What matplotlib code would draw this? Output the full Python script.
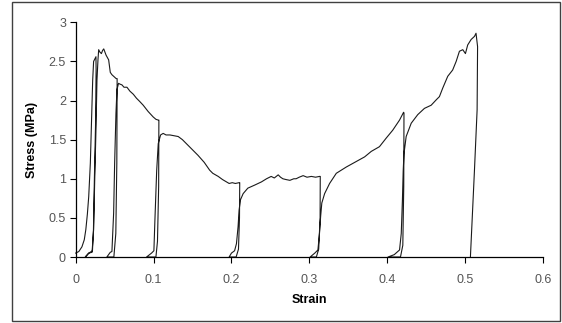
import numpy as np
import matplotlib
matplotlib.use("Agg")
import matplotlib.pyplot as plt
from matplotlib.patches import Rectangle

plt.rcParams['font.family'] = ['Liberation Sans', 'DejaVu Sans']

# ---- data (strain, stress in MPa) ----
# cycle 1: initial loading, unloading, reloading to peak and softening
c1_strain = [0.0, 0.004, 0.008, 0.011, 0.013, 0.015, 0.0167, 0.0188, 0.020, 0.0218, 0.023, 0.026,
             0.0262, 0.0255, 0.024, 0.0228, 0.0215, 0.017, 0.0123,
             0.0167, 0.021, 0.023, 0.0244, 0.026, 0.0273, 0.0286, 0.0295, 0.031, 0.033, 0.0345,
             0.036, 0.039, 0.0423, 0.0444, 0.0465, 0.0487, 0.052, 0.0532,
             0.0528, 0.0515, 0.049]
c1_stress = [0.05, 0.07, 0.13, 0.22, 0.35, 0.55, 0.77, 1.2, 1.62, 2.26, 2.5, 2.56,
             2.4, 1.7, 1.0, 0.35, 0.08, 0.05, 0.0,
             0.05, 0.06, 0.35, 0.98, 1.62, 2.26, 2.52, 2.65, 2.62, 2.6, 2.64,
             2.66, 2.58, 2.52, 2.36, 2.33, 2.31, 2.28, 2.28,
             1.2, 0.3, 0.0]

c2_strain = [0.040, 0.0444, 0.0465, 0.0487, 0.050, 0.0517, 0.053, 0.055, 0.0568, 0.0594, 0.062,
             0.0658, 0.0696, 0.074, 0.078, 0.082, 0.0867, 0.093, 0.0995, 0.103, 0.106, 0.1068,
             0.1065, 0.105, 0.103]
c2_stress = [0.0, 0.06, 0.07, 0.56, 1.2, 1.84, 2.14, 2.22, 2.21, 2.2, 2.17,
             2.17, 2.12, 2.08, 2.03, 1.99, 1.94, 1.86, 1.79, 1.76, 1.75, 1.75,
             0.9, 0.2, 0.0]

c3_strain = [0.091, 0.0974, 0.1004, 0.1017, 0.104, 0.106, 0.109, 0.1123, 0.116, 0.121, 0.126,
             0.1316, 0.137, 0.142, 0.150, 0.157, 0.165, 0.172, 0.176, 0.183, 0.1885, 0.1935,
             0.197, 0.201, 0.205, 0.2098, 0.2106, 0.2103, 0.209, 0.206]
c3_stress = [0.0, 0.05, 0.08, 0.47, 1.11, 1.45, 1.56, 1.58, 1.56, 1.56, 1.55,
             1.54, 1.50, 1.45, 1.37, 1.30, 1.21, 1.11, 1.07, 1.03, 0.99, 0.96,
             0.94, 0.95, 0.94, 0.95, 0.95, 0.5, 0.1, 0.0]

c4_strain = [0.197, 0.200, 0.204, 0.2064, 0.2085, 0.2098, 0.2115, 0.215, 0.221, 0.230, 0.2385,
             0.245, 0.251, 0.255, 0.260, 0.263, 0.266, 0.270, 0.275, 0.280, 0.283, 0.287,
             0.292, 0.297, 0.3026, 0.308, 0.313, 0.314, 0.3138, 0.312, 0.309]
c4_stress = [0.0, 0.05, 0.08, 0.17, 0.39, 0.6, 0.73, 0.81, 0.88, 0.92, 0.96,
             1.0, 1.03, 1.01, 1.05, 1.02, 1.0, 0.99, 0.98, 1.0, 1.0, 1.02,
             1.04, 1.02, 1.03, 1.02, 1.03, 1.03, 0.5, 0.1, 0.0]

c5_strain = [0.301, 0.307, 0.311, 0.313, 0.3145, 0.316, 0.3196, 0.326, 0.3346, 0.3474, 0.360,
             0.371, 0.3795, 0.390, 0.3987, 0.407, 0.4158, 0.421, 0.4215, 0.4212, 0.420, 0.417]
c5_stress = [0.0, 0.05, 0.09, 0.30, 0.52, 0.69, 0.81, 0.94, 1.07, 1.15, 1.22,
             1.28, 1.35, 1.41, 1.52, 1.62, 1.75, 1.85, 1.84, 0.9, 0.15, 0.0]

c6_strain = [0.401, 0.409, 0.4158, 0.418, 0.4195, 0.4205, 0.4215, 0.4243, 0.4308, 0.4392, 0.4478,
             0.4564, 0.463, 0.467, 0.4713, 0.4777, 0.484, 0.4885, 0.4927, 0.497, 0.5004,
             0.5033, 0.5077, 0.512, 0.514, 0.516, 0.5154, 0.512, 0.5068]
c6_stress = [0.0, 0.03, 0.09, 0.30, 0.73, 1.10, 1.32, 1.54, 1.71, 1.82, 1.90,
             1.94, 2.01, 2.05, 2.16, 2.31, 2.39, 2.50, 2.63, 2.65, 2.60,
             2.71, 2.78, 2.82, 2.86, 2.69, 1.88, 1.11, 0.0]

x_ticks = [0, 0.1, 0.2, 0.3, 0.4, 0.5, 0.6]
x_tick_labels = ['0', '0.1', '0.2', '0.3', '0.4', '0.5', '0.6']
y_ticks = [0, 0.5, 1, 1.5, 2, 2.5, 3]
y_tick_labels = ['0', '0.5', '1', '1.5', '2', '2.5', '3']

# ---- figure ----
W, H = 562, 323
fig = plt.figure(figsize=(W / 100, H / 100), dpi=100)
fig.patch.set_facecolor('white')

# outer chart border
fig.patches.append(Rectangle((12 / W, 1 - 321 / H), (560 - 12) / W, (321 - 2) / H,
                             transform=fig.transFigure, fill=False,
                             edgecolor='#404040', linewidth=1.0))

left, right = 75.7 / W, 543 / W
bottom, top = 1 - 257 / H, 1 - 22.3 / H
ax = fig.add_axes([left, bottom, right - left, top - bottom])

strain = []
stress = []
segs = [(c1_strain, c1_stress), (c2_strain, c2_stress), (c3_strain, c3_stress),
        (c4_strain, c4_stress), (c5_strain, c5_stress), (c6_strain, c6_stress)]
for xs, ys in segs:
    strain.extend(xs)
    stress.extend(ys)

ax.plot(strain, stress, color='#1a1a1a', linewidth=0.8, clip_on=False)

ax.set_xlim(0, 0.6)
ax.set_ylim(0, 3)
ax.set_xticks(x_ticks)
ax.set_xticklabels(x_tick_labels)
ax.set_yticks(y_ticks)
ax.set_yticklabels(y_tick_labels)

for s in ['top', 'right']:
    ax.spines[s].set_visible(False)
for s in ['left', 'bottom']:
    ax.spines[s].set_color('black')
    ax.spines[s].set_linewidth(0.9)

ax.tick_params(axis='x', direction='out', length=4, width=0.8, pad=8,
               labelsize=9, labelcolor='#555555', color='black')
ax.tick_params(axis='y', direction='out', length=4, width=0.8, pad=3,
               labelsize=9, labelcolor='#555555', color='black')

ax.set_xlabel('Strain', fontsize=9, fontweight='bold', color='black', labelpad=6)
ax.set_ylabel('Stress (MPa)', fontsize=9, fontweight='bold', color='black', labelpad=8)

fig.savefig('out.png', dpi=100, facecolor='white')
